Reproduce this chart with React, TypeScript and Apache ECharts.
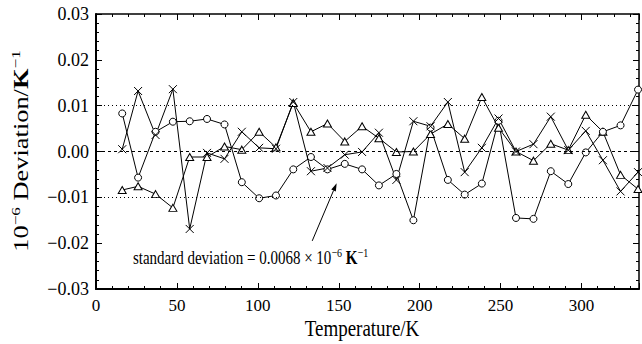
import React, { useEffect, useRef } from "react";
import * as echarts from "echarts";

// Temperatures (K) of the measurement points
const temperatures = [
  16.2, 26.0, 36.8, 47.5, 57.9, 68.6, 79.4, 90.1, 100.8, 111.2, 121.9, 132.8,
  143.0, 153.7, 164.4, 174.8, 185.6, 196.1, 206.7, 217.4, 227.8, 238.4, 248.7,
  259.5, 270.3, 281.0, 291.8, 302.6, 313.2, 324.1, 334.9,
];

// Deviations (10^-6 K^-1)
const circleDev = [
  0.0083, -0.0057, 0.0043, 0.0065, 0.0066, 0.0071, 0.0059, -0.0067, -0.0102,
  -0.0096, -0.0039, -0.0012, -0.0039, -0.0027, -0.0039, -0.0074, -0.0049,
  -0.015, 0.0052, -0.0062, -0.0094, -0.007, 0.0067, -0.0145, -0.0147, -0.0043,
  -0.0071, -0.0002, 0.0043, 0.0057, 0.0135,
];
const crossDev = [
  0.0005, 0.0132, 0.0036, 0.0136, -0.0169, -0.0003, -0.0016, 0.0043, 0.0008,
  0.0006, 0.0108, -0.0043, -0.0036, -0.0007, -0.0001, 0.0041, -0.0062, 0.0066,
  0.0055, 0.0108, -0.0045, 0.0008, 0.0072, 0.0, 0.0016, 0.0076, 0.0003, 0.0045,
  -0.0019, -0.0087, -0.0045,
];
const triangleDev = [
  -0.0084, -0.0076, -0.0093, -0.0123, -0.0012, -0.0012, 0.0011, 0.0004, 0.0043,
  0.0009, 0.0106, 0.0043, 0.0061, 0.0022, 0.0055, 0.0029, -0.0001, 0.0, 0.0038,
  0.006, 0.0028, 0.0119, 0.0052, 0.0, -0.002, 0.0017, 0.0003, 0.008, 0.0043,
  -0.0051, -0.0082,
];

const stdDev = 0.0068;
const xMin = 0;
const xMax = 335.5;
const xInterval = 50;
const yMin = -0.03;
const yMax = 0.03;
const yInterval = 0.01;

const FONT = "Liberation Serif";

const pairs = (ys: number[]) => temperatures.map((t, i) => [t, ys[i]]);

const fmtY = (v: number) => {
  if (Math.abs(v) < 1e-9) return "0.00";
  return (v < 0 ? "\u2212" : "") + Math.abs(v).toFixed(2);
};

const makeX = (position: "bottom" | "top", labels: boolean) => ({
  type: "value",
  position,
  min: xMin,
  max: xMax,
  interval: xInterval,
  axisLine: { show: true, onZero: false, lineStyle: { color: "#000", width: labels ? 2 : 1.5 } },
  axisTick: { show: true, inside: true, length: 6, lineStyle: { color: "#000", width: 1 } },
  minorTick: { show: true, splitNumber: 5, length: 3, lineStyle: { color: "#000", width: 1 } },
  splitLine: { show: false },
  minorSplitLine: { show: false },
  axisLabel: {
    show: labels,
    color: "#000",
    fontFamily: FONT,
    fontSize: 17,
    margin: 8,
    formatter: (v: number) => (Math.abs(v % xInterval) < 1e-9 ? String(v) : ""),
  },
});

const makeY = (position: "left" | "right", labels: boolean) => ({
  type: "value",
  position,
  min: yMin,
  max: yMax,
  interval: yInterval,
  axisLine: { show: true, onZero: false, lineStyle: { color: "#000", width: labels ? 2 : 1.5 } },
  axisTick: { show: true, inside: true, length: 6, lineStyle: { color: "#000", width: 1 } },
  minorTick: { show: true, splitNumber: 5, length: 3, lineStyle: { color: "#000", width: 1 } },
  splitLine: { show: false },
  minorSplitLine: { show: false },
  axisLabel: {
    show: labels,
    color: "#000",
    fontFamily: FONT,
    fontSize: 18,
    margin: 7,
    formatter: fmtY,
  },
});

const baseSeries = (name: string, ys: number[], symbol: string, symbolSize: any) => ({
  name,
  type: "line",
  data: pairs(ys),
  xAxisIndex: 0,
  yAxisIndex: 0,
  symbol,
  symbolSize,
  showAllSymbol: true,
  lineStyle: { color: "#000", width: 1 },
  itemStyle: { color: "#fff", borderColor: "#000", borderWidth: 1 },
  emphasis: { disabled: true },
});

export default function App() {
  const ref = useRef<HTMLDivElement>(null);

  useEffect(() => {
    const chart = echarts.init(ref.current!, null, { renderer: "svg" });
    const option: any = {
      animation: false,
      backgroundColor: "#fff",
      grid: { left: 96, right: 1, top: 14, bottom: 55, containLabel: false },
      xAxis: [makeX("bottom", true), makeX("top", false)],
      yAxis: [makeY("left", true), makeY("right", false)],
      series: [
        {
          ...baseSeries("triangle", triangleDev, "triangle", [8, 7]),
          markLine: {
            silent: true,
            symbol: ["none", "none"],
            label: { show: false },
            data: [
              { yAxis: stdDev, lineStyle: { type: [1, 3], color: "#000", width: 1 } },
              { yAxis: 0, lineStyle: { type: [3, 3], color: "#000", width: 1 } },
              { yAxis: -stdDev, lineStyle: { type: [1, 3], color: "#000", width: 1 } },
            ],
          },
        },
        baseSeries("circle", circleDev, "circle", 7),
        baseSeries("cross", crossDev, "path://M0,0L10,10M10,0L0,10", 8),
      ],
    };
    chart.setOption(option);

    const px = (x: number, y: number) => chart.convertToPixel({ seriesIndex: 0 }, [x, y]) as number[];
    const tail = px(133.6, -0.0195);
    const tip = px(148.7, -stdDev - 0.0001);
    const dx = tip[0] - tail[0];
    const dy = tip[1] - tail[1];
    const len = Math.sqrt(dx * dx + dy * dy);
    const ux = dx / len;
    const uy = dy / len;
    const hl = 8;
    const hw = 2.5;
    const base = [tip[0] - ux * hl, tip[1] - uy * hl];
    const head = [
      [tip[0], tip[1]],
      [base[0] - uy * hw, base[1] + ux * hw],
      [base[0] + uy * hw, base[1] - ux * hw],
    ];
    const textPos = px(22.8, -0.0232);

    const rich = (size: number) => ({
      n: { fontFamily: FONT, fontSize: size, lineHeight: size + 4, color: "#000" },
      b: { fontFamily: FONT, fontSize: size, lineHeight: size + 4, fontWeight: "bold", color: "#000" },
      s: { fontFamily: FONT, fontSize: Math.round(size * 0.65), lineHeight: Math.round(size * 0.65), verticalAlign: "top", color: "#000" },
    });

    chart.setOption({
      graphic: [
        {
          type: "line",
          shape: { x1: tail[0], y1: tail[1], x2: base[0], y2: base[1] },
          style: { stroke: "#000", lineWidth: 1 },
          silent: true,
        },
        {
          type: "polygon",
          shape: { points: head },
          style: { fill: "#000" },
          silent: true,
        },
        {
          type: "text",
          x: textPos[0],
          y: textPos[1],
          scaleY: 1.25,
          style: {
            text: "{n|standard deviation = 0.0068 \u00d7 10}{s|\u22126}{b| K}{s|\u22121}",
            rich: rich(15),
            align: "left",
            verticalAlign: "middle",
          },
          silent: true,
        },
        {
          type: "text",
          x: 21,
          y: 151,
          rotation: Math.PI / 2,
          scaleX: 1.32,
          style: {
            text: "{n|10}{s|\u22126}{n| Deviation/}{b|K}{s|\u22121}",
            rich: rich(20),
            align: "center",
            verticalAlign: "middle",
          },
          silent: true,
        },
        {
          type: "text",
          x: 362,
          y: 328,
          scaleY: 1.2,
          style: {
            text: "Temperature/K",
            fontFamily: FONT,
            fontSize: 19,
            fill: "#000",
            align: "center",
            verticalAlign: "middle",
          },
          silent: true,
        },
      ],
    });

    return () => chart.dispose();
  }, []);

  return (
    <div
      ref={ref}
      style={{ position: "fixed", left: 0, top: 0, width: 642, height: 344 }}
    />
  );
}
